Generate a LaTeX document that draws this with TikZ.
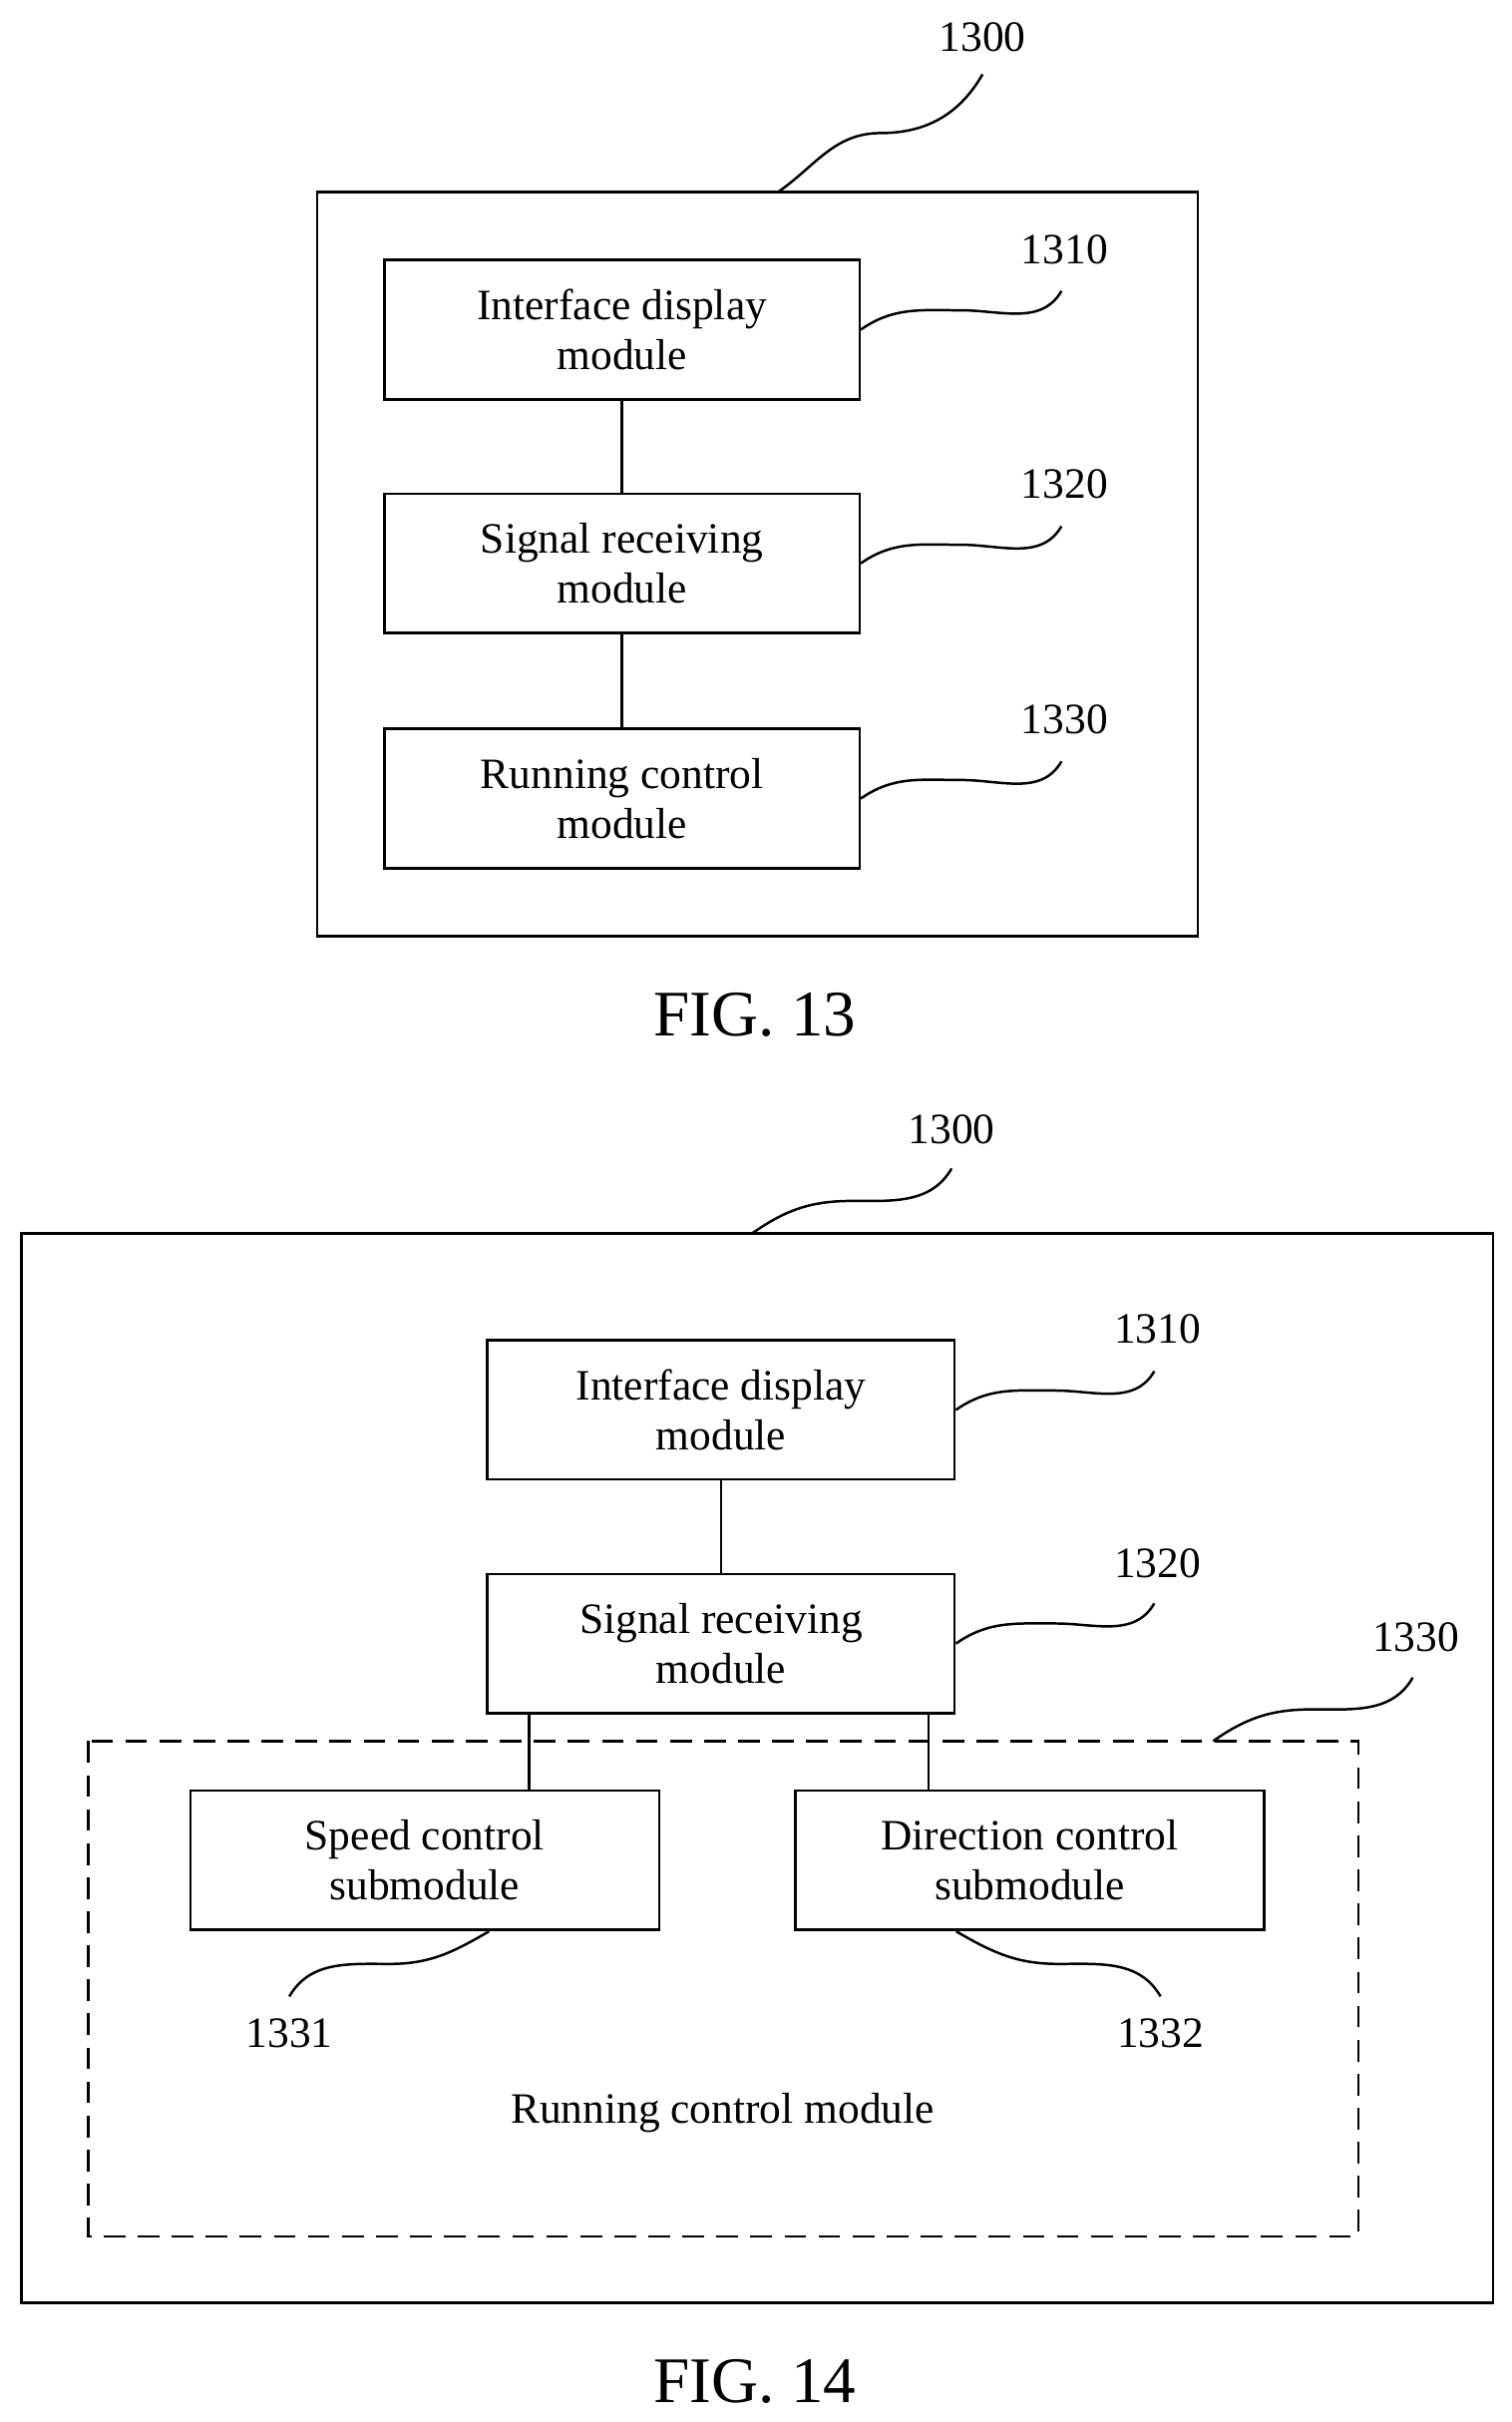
\documentclass[tikz,border=0pt]{standalone}
\usepackage{fontspec}
\setmainfont{Liberation Serif}
\usetikzlibrary{calc}
\tikzset{
  box/.style={draw, line width=1.6pt, minimum width=307pt, minimum height=90pt, align=center, inner sep=0pt},
  num/.style={font=\fontsize{28}{32}\selectfont, inner sep=0pt},
  lead/.style={line width=1.6pt},
  figcap/.style={font=\fontsize{42}{46}\selectfont, inner sep=0pt}
}
\newcommand{\wave}[2]{\draw[lead] (#1) to[out=35,in=180] ($(#1)!0.5!(#2)$) to[out=0,in=-120] (#2);}
\begin{document}
\begin{tikzpicture}[x=1pt, y=-1pt, font=\fontsize{28}{32}\selectfont]
    \useasboundingbox (0,0) rectangle (977,1565);
    % FIG. 13
    \draw[line width=1.6pt] (205,124) rectangle (774,605);
    \node[box] (disp) at (402,213) {Interface display\\module};
    \node[box] (recv) at (402,364) {Signal receiving\\module};
    \node[box] (run) at (402,516) {Running control\\module};
    \draw[lead] (disp) -- (recv);
    \draw[lead] (recv) -- (run);
    \node[num] (n1300) at (635,24) {1300};
    \node[num] (n1310) at (688,161) {1310};
    \node[num] (n1320) at (688,313) {1320};
    \node[num] (n1330) at (688,465) {1330};
    \coordinate (c1300) at (503,124);
    \wave{c1300}{635,48}
    \wave{disp.east}{686,188}
    \wave{recv.east}{686,340}
    \wave{run.east}{686,492}
    \node[figcap] (fig13) at (488,656) {FIG. 13};
    % FIG. 14
    \draw[line width=1.6pt] (14,797) rectangle (965,1488);
    \node[box, minimum width=302pt] (disp2) at (466,911) {Interface display\\module};
    \node[box, minimum width=302pt] (recv2) at (466,1062) {Signal receiving\\module};
    \draw[lead] (disp2) -- (recv2);
    \draw[lead, dash pattern=on 14pt off 8pt] (57,1125) rectangle (878,1445);
    \node[box, minimum width=303pt] (speed) at (274.5,1202) {Speed control\\submodule};
    \node[box, minimum width=303pt] (dir) at (665.5,1202) {Direction control\\submodule};
    \draw[lead] (recv2.south -| 342,0) -- (speed.north -| 342,0);
    \draw[lead] (recv2.south -| 600,0) -- (dir.north -| 600,0);
    \node (runlbl) at (467,1365) {Running control module};
    \node[num] (m1300) at (615,730) {1300};
    \node[num] (m1310) at (748,859) {1310};
    \node[num] (m1320) at (748,1010) {1320};
    \node[num] (m1330) at (915,1058) {1330};
    \node[num] (m1331) at (187,1314) {1331};
    \node[num] (m1332) at (750,1314) {1332};
    \coordinate (c1300b) at (486,797);
    \coordinate (c1330) at (784,1125);
    \wave{c1300b}{615,755}
    \wave{disp2.east}{746,886}
    \wave{recv2.east}{746,1036}
    \wave{c1330}{913,1084}
    \draw[lead] (316,1248) to[out=-150,in=0] (252,1269) to[out=180,in=60] (187,1290);
    \draw[lead] (618,1248) to[out=-30,in=180] (684,1269) to[out=0,in=120] (750,1290);
    \node[figcap] (fig14) at (488,1539) {FIG. 14};
\end{tikzpicture}
\end{document}
